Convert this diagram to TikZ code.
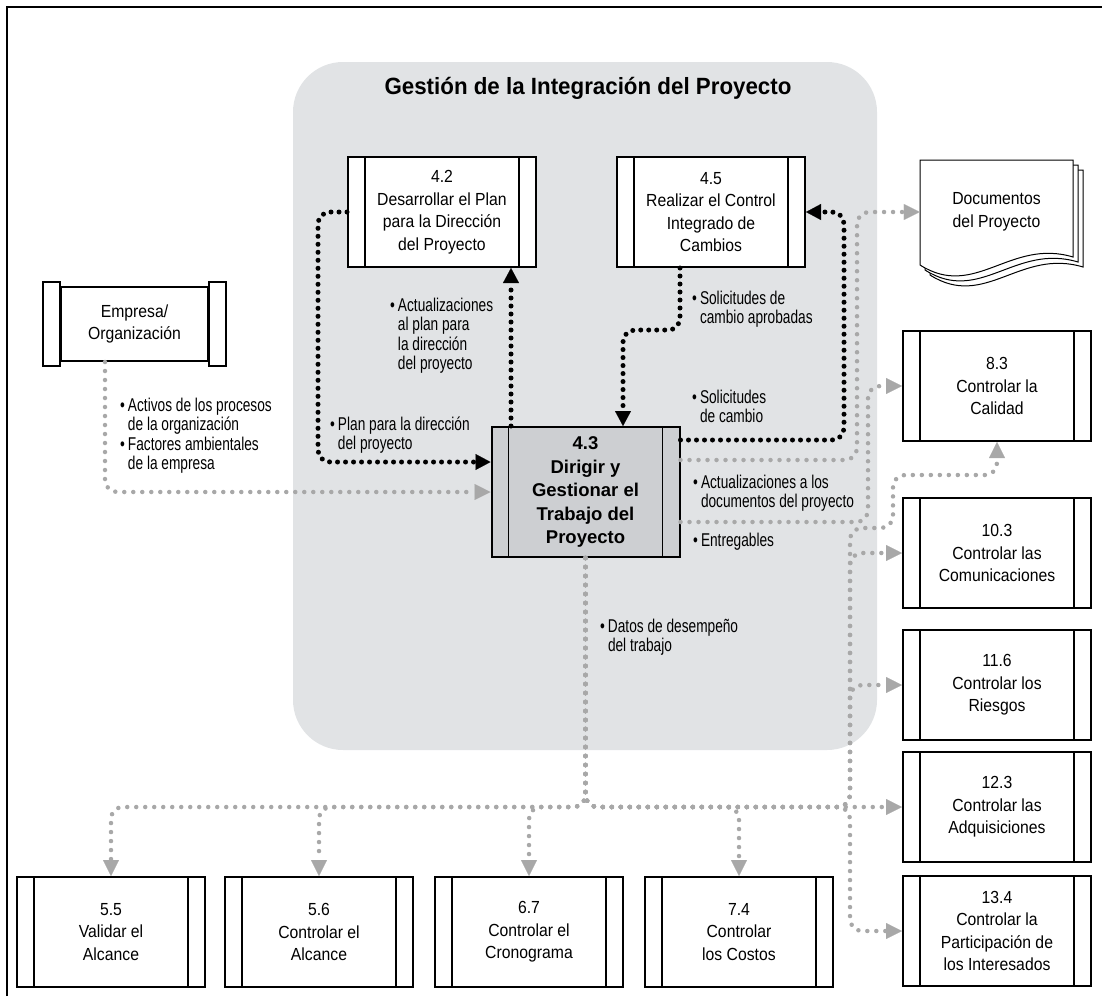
\documentclass[tikz,border=0pt]{standalone}
\usepackage{fontspec}
\setmainfont{Liberation Sans}
\newfontfamily\boxfont[FakeStretch=0.9]{Liberation Sans}
\newfontfamily\condfont[FakeStretch=0.74]{Liberation Sans}
\newfontfamily\titlefont[FakeStretch=0.95]{Liberation Sans}
\usetikzlibrary{arrows.meta}
\definecolor{panel}{RGB}{225,227,229}
\definecolor{boxgray}{RGB}{205,207,210}
\definecolor{dotgray}{RGB}{168,168,168}
\tikzset{
  bars/.style={path picture={
      \draw[line width=1.6pt]
        ([xshift=#1]path picture bounding box.north west) -- ([xshift=#1]path picture bounding box.south west)
        ([xshift=-#1]path picture bounding box.north east) -- ([xshift=-#1]path picture bounding box.south east);}},
  proc/.style={draw, line width=2pt, fill=white, minimum width=188pt, minimum height=110pt,
      inner sep=0pt, align=center, font=\boxfont\fontsize{17.5}{22.5}\selectfont, bars=17pt},
  mainproc/.style={proc, fill=boxgray, minimum height=130pt, font=\bfseries\fontsize{18.5}{23.5}\selectfont},
  bk/.style={line width=5pt, line cap=round, dash pattern=on 0pt off 8pt, rounded corners=12pt,
      -{Triangle[length=15pt,width=16pt,line width=0.1pt]}},
  gd/.style={dotgray, line width=4.5pt, line cap=round, dash pattern=on 0pt off 9pt, rounded corners=12pt,
      -{Triangle[length=16pt,width=16pt,line width=0.1pt]}},
  lbl/.style={inner sep=0pt, anchor=base west, font=\condfont\fontsize{18.5}{19.5}\selectfont},
}
\newcommand{\bitem}[1]{\begin{tabular}[t]{@{}l@{\hspace{3pt}}l@{}}#1\end{tabular}}
\begin{document}
\begin{tikzpicture}[x=1pt,y=-1pt]
\useasboundingbox (0,0) rectangle (1102,996);
% background panel and frame
\fill[panel, rounded corners=50pt] (293,62) rectangle (877,750);
\draw[line width=2pt] (7,996) -- (7,7) -- (1102,7);

\node[font=\titlefont\bfseries\fontsize{23.5}{27}\selectfont] (title) at (588,88) {Gestión de la Integración del Proyecto};

% processes
\node[proc] (p42) at (442,212) {4.2\\Desarrollar el Plan\\para la Dirección\\del Proyecto};
\node[proc] (p45) at (711,212) {4.5\\Realizar el Control\\Integrado de\\Cambios};
\node[mainproc] (p43) at (585.5,492) {4.3\\Dirigir y\\Gestionar el\\Trabajo del\\Proyecto};
\node[proc] (p83) at (997,386) {8.3\\Controlar la\\Calidad};
\node[proc] (p103) at (997,553) {10.3\\Controlar las\\Comunicaciones};
\node[proc] (p116) at (997,685) {11.6\\Controlar los\\Riesgos};
\node[proc] (p123) at (997,807) {12.3\\Controlar las\\Adquisiciones};
\node[proc] (p134) at (997,931) {13.4\\Controlar la\\Participación de\\los Interesados};
\node[proc] (p55) at (111,932) {5.5\\Validar el\\Alcance};
\node[proc] (p56) at (319,932) {5.6\\Controlar el\\Alcance};
\node[proc] (p67) at (529,932) {6.7\\Controlar el\\Cronograma};
\node[proc] (p74) at (739,932) {7.4\\Controlar\\los Costos};

% enterprise scroll
\node[draw, line width=2pt, fill=white, minimum width=147pt, minimum height=74pt, inner sep=0pt,
      align=center, font=\boxfont\fontsize{17.5}{22.5}\selectfont] (emp) at (134.5,324) {Empresa/\\Organización};
\draw[line width=2pt, fill=white] ([yshift=4pt]emp.north west) rectangle ([xshift=-17pt,yshift=-4pt]emp.south west);
\draw[line width=2pt, fill=white] ([yshift=4pt]emp.north east) rectangle ([xshift=17pt,yshift=-4pt]emp.south east);

% project documents stack
\foreach \k in {10,5,0}{
  \draw[line width=1pt, fill=white, shift={(\k,\k)}]
    (920,160) -- (1073,160) -- (1073,257) .. controls (1010,238) and (975,300) .. (920,265) -- cycle;
}
\node[minimum width=153pt, minimum height=100pt, inner sep=0pt, align=center,
      font=\boxfont\fontsize{17.5}{22.5}\selectfont] (doc) at (996.5,212) {Documentos\\del Proyecto};

% routing points
\coordinate (lc) at (318,340);
\coordinate (sa) at (650,330);
\coordinate (rc) at (844,330);
\coordinate (dc) at (857,330);
\coordinate (ec) at (868,450);
\coordinate (hub) at (585.5,807);
\coordinate (tr) at (850,807);
\coordinate (q1) at (850,528);
\coordinate (q2) at (893,528);
\coordinate (q3) at (893,475);

% black flows
\draw[bk] (p42.west) -| (lc) |- ([yshift=30pt]p43.west);
\draw[bk] ([xshift=-74.5pt]p43.north) -- ([xshift=-74.5pt]p43.north |- p42.south);
\draw[bk] ([xshift=-31pt]p45.south) |- (sa) -| ([xshift=37.5pt]p43.north);
\draw[bk] ([yshift=52pt]p43.east) -| (rc) |- (p45.east);

% grey flows
\draw[gd] ([xshift=-29.5pt]emp.south) |- (p43.west);
\draw[gd] ([yshift=32pt]p43.east) -| (dc) |- (doc.west);
\draw[gd] ([yshift=-30pt]p43.east) -| (ec) |- (p83.west);
\foreach \t in {p55,p56,p67,p74} \draw[gd] (p43.south) -- (hub) -| (\t.north);
\draw[gd] (p43.south) -- (hub) -- (p123.west);
\foreach \t in {p103,p116,p134} \draw[gd] (p43.south) -- (hub) -- (tr) |- (\t.west);
\draw[gd] (p43.south) -- (hub) -- (tr) -- (q1) -- (q2) -- (q3) -| (p83.south);

% flow labels
\node[lbl] (lb1) at (390,311) {\bitem{\textbullet & Actualizaciones\\ & al plan para\\ & la dirección\\ & del proyecto}};
\node[lbl] (lb2) at (330,430) {\bitem{\textbullet & Plan para la dirección\\ & del proyecto}};
\node[lbl] (lb3) at (692,304) {\bitem{\textbullet & Solicitudes de\\ & cambio aprobadas}};
\node[lbl] (lb4) at (692,403) {\bitem{\textbullet & Solicitudes\\ & de cambio}};
\node[lbl] (lb5) at (693,488) {\bitem{\textbullet & Actualizaciones a los\\ & documentos del proyecto}};
\node[lbl] (lb6) at (693,546) {\bitem{\textbullet & Entregables}};
\node[lbl] (lb7) at (600,632) {\bitem{\textbullet & Datos de desempeño\\ & del trabajo}};
\node[lbl] (lb8) at (120,411) {\bitem{\textbullet & Activos de los procesos\\ & de la organización\\ \textbullet & Factores ambientales\\ & de la empresa}};
\end{tikzpicture}
\end{document}
